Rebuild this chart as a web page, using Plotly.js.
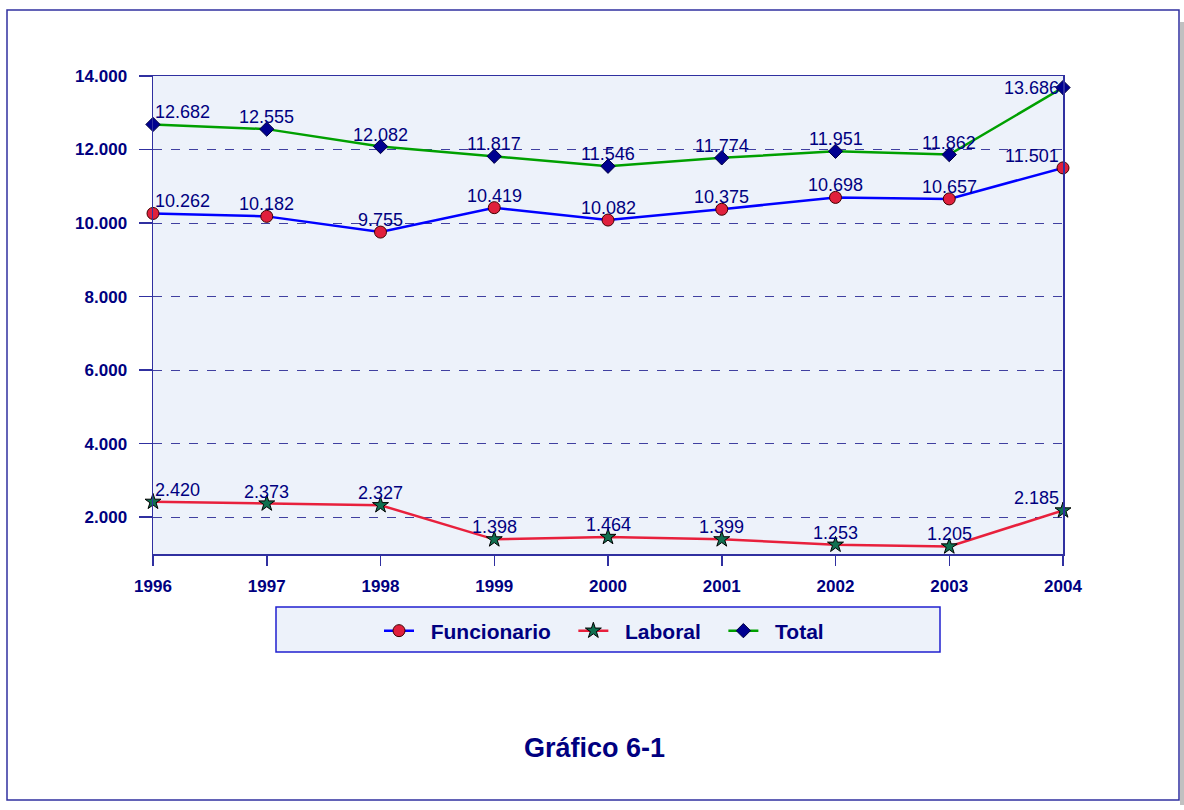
<!DOCTYPE html>
<html>
<head>
<meta charset="utf-8">
<script src="https://cdn.plot.ly/plotly-3.0.1.min.js"></script>
<style>html,body{margin:0;padding:0;background:#fff;}#chart{width:1184px;height:810px;}</style>
</head>
<body>
<div id="chart"></div>
<script>
const years = [1996, 1997, 1998, 1999, 2000, 2001, 2002, 2003, 2004];
const funcionario = [10262, 10182, 9755, 10419, 10082, 10375, 10698, 10657, 11501];
const laboral = [2420, 2373, 2327, 1398, 1464, 1399, 1253, 1205, 2185];
const total = [12682, 12555, 12082, 11817, 11546, 11774, 11951, 11862, 13686];
const yTicks = [2000, 4000, 6000, 8000, 10000, 12000, 14000];
const seriesNames = ['Funcionario', 'Laboral', 'Total'];
const chartTitle = 'Gráfico 6-1';

const navy = '#000080';
const fam = 'Liberation Sans, Arial, sans-serif';
const labelFont = {family: fam, size: 18, color: navy};
const fmt = v => String(v).replace(/\B(?=(\d{3})+(?!\d))/g, '.');
const pad = '\u00a0\u00a0';

function series(name, values, line, marker) {
  return {
    x: years, y: values, name: name, type: 'scatter', mode: 'lines+markers',
    line: line, marker: marker, cliponaxis: false, hoverinfo: 'skip'
  };
}

const traces = [
  series(pad + seriesNames[0] + pad + '\u00a0', funcionario, {color: '#0000ff', width: 2.5},
    {symbol: 'circle', size: 12, color: '#e0203c', line: {color: '#400000', width: 1}}),
  series(pad + seriesNames[1] + pad + '\u00a0', laboral, {color: '#e8203c', width: 2.5},
    {symbol: 'star', size: 12, color: '#107050', line: {color: '#000000', width: 1}}),
  series(pad + seriesNames[2], total, {color: '#00a000', width: 2.5},
    {symbol: 'diamond', size: 11, color: '#000090', line: {color: '#000040', width: 1}})
];

function labels(values, lastMiddle) {
  const n = years.length;
  return years.map((yr, i) => {
    const a = {
      x: yr, y: values[i], xref: 'x', yref: 'y', text: fmt(values[i]), showarrow: false,
      font: labelFont, borderpad: 0, xanchor: 'center', yanchor: 'bottom', yshift: 1
    };
    if (i === 0) { a.xanchor = 'left'; a.xshift = 1; }
    if (i === n - 1) {
      a.xanchor = 'right'; a.xshift = -3;
      if (lastMiddle) { a.yanchor = 'middle'; a.yshift = 0; }
    }
    return a;
  });
}

const L = 153, R = 1063, T = 76, B = 554, W = 1184, H = 810;
const px = v => (v - L) / (R - L);
const py = v => (B - v) / (B - T);

const layout = {
  width: W, height: H,
  margin: {l: L, r: W - R, t: T, b: H - B, pad: 0},
  paper_bgcolor: '#ffffff',
  plot_bgcolor: '#edf2fa',
  separators: ',.',
  showlegend: true,
  legend: {
    orientation: 'h', x: px(604), xanchor: 'center', y: py(631), yanchor: 'middle',
    bgcolor: 'rgba(0,0,0,0)', borderwidth: 0,
    font: {family: fam, size: 21, color: navy, weight: 'bold'},
    traceorder: 'normal'
  },
  xaxis: {
    range: [1996, 2004], tickvals: years, ticktext: years.map(String),
    showgrid: false, zeroline: false,
    showline: true, linecolor: '#3030a0', linewidth: 1.5, mirror: true,
    ticks: 'outside', ticklen: 10, tickcolor: '#3030a0', tickwidth: 1.5,
    ticklabelstandoff: 6,
    tickfont: {family: fam, size: 17, color: navy, weight: 'bold'}
  },
  yaxis: {
    range: [1000, 14000], tickvals: yTicks, tickformat: ',.0f',
    showgrid: true, gridcolor: '#4040a0', griddash: 'dash', gridwidth: 1,
    zeroline: false,
    showline: true, linecolor: '#3030a0', linewidth: 1.5, mirror: true,
    ticks: 'outside', ticklen: 13, tickcolor: '#3030a0', tickwidth: 1.5,
    ticklabelstandoff: 8,
    tickfont: {family: fam, size: 17, color: navy, weight: 'bold'}
  },
  shapes: [
    {type: 'rect', xref: 'paper', yref: 'paper', x0: px(1180), x1: px(1184), y0: py(22), y1: py(805),
     line: {width: 0}, fillcolor: '#c0c0c0', layer: 'below'},
    {type: 'rect', xref: 'paper', yref: 'paper', x0: px(7), x1: px(1179), y0: py(10), y1: py(800),
     line: {color: '#3030a0', width: 1.5}, fillcolor: 'rgba(0,0,0,0)', layer: 'below'},
    {type: 'rect', xref: 'paper', yref: 'paper', x0: px(276), x1: px(940), y0: py(607), y1: py(652),
     line: {color: '#2020d0', width: 1.5}, fillcolor: '#edf2fa', layer: 'below'}
  ],
  annotations: [].concat(
    labels(funcionario, false),
    labels(laboral, false),
    labels(total, true),
    [{text: chartTitle, xref: 'paper', yref: 'paper', x: px(594), y: py(748),
      xanchor: 'center', yanchor: 'middle', showarrow: false,
      font: {family: fam, size: 27, color: navy, weight: 'bold'}}]
  )
};

Plotly.newPlot('chart', traces, layout, {displayModeBar: false, staticPlot: true});
</script>
</body>
</html>
